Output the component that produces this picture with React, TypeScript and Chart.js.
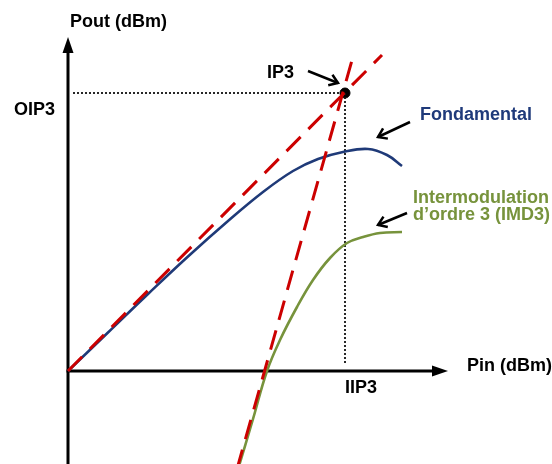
import React, { useEffect, useRef } from "react";
import { Chart, registerables } from "chart.js";
Chart.register(...registerables);

// Schematic units: origin at axis crossing; IIP3 ≈ 27.7, OIP3 ≈ 27.8
const fundPin = [0, 4, 8, 12, 16, 19.5, 22.5, 25, 27.5, 30, 31.9, 33.4];
const fundPout = [0, 3.85, 7.7, 11.45, 15.0, 17.9, 20.0, 21.2, 21.9, 22.2, 21.6, 20.5];

const imdPin = [16.95, 18.5, 19.9, 21.2, 22.9, 24.5, 26.2, 27.9, 29.5, 31.2, 33.4];
const imdPout = [-10, -4.8, 0, 3.1, 6.4, 9.1, 11.3, 12.8, 13.4, 13.8, 13.9];

const asym1Pin = [0, 31.4];
const asym1Pout = [0, 31.6];
const asym3Pin = [16.9, 28.6];
const asym3Pout = [-9.8, 31.8];

const ip3Pin = [27.7];
const ip3Pout = [27.8];

const hDotPin = [0.5, 27.7];
const hDotPout = [27.8, 27.8];
const vDotPin = [27.7, 27.7];
const vDotPout = [27.8, 0.7];

const X_MIN = -6.8, X_MAX = 48.4, Y_MIN = -9.3, Y_MAX = 37.1;
const X_ARROW_TIP = 38.0, Y_ARROW_TIP = 33.4;

const labels = [
  { text: "Pout (dBm)", x: 0.2, y: 34.4, color: "#000000" },
  { text: "OIP3", x: -5.4, y: 25.6, color: "#000000" },
  { text: "IP3", x: 19.9, y: 29.3, color: "#000000" },
  { text: "Fondamental", x: 35.2, y: 25.1, color: "#1F3A7A" },
  { text: "Intermodulation", x: 34.5, y: 16.8, color: "#77933C" },
  { text: "d\u2019ordre 3 (IMD3)", x: 34.5, y: 15.1, color: "#77933C" },
  { text: "Pin (dBm)", x: 39.9, y: 0.0, color: "#000000" },
  { text: "IIP3", x: 27.7, y: -2.17, color: "#000000" },
];

const pointers = [
  { x1: 24.0, y1: 30.0, x2: 27.0, y2: 28.8 },
  { x1: 34.2, y1: 24.9, x2: 31.0, y2: 23.4 },
  { x1: 33.9, y1: 15.8, x2: 31.0, y2: 14.6 },
];

const zip = (xs: number[], ys: number[]) => xs.map((x, i) => ({ x, y: ys[i] }));

const annotPlugin = {
  id: "annot",
  beforeDatasetsDraw(chart: any) {
    const { ctx, scales } = chart;
    const sx = (v: number) => scales.x.getPixelForValue(v);
    const sy = (v: number) => scales.y.getPixelForValue(v);
    const ox = sx(0), oy = sy(0);
    ctx.save();
    ctx.strokeStyle = "#000";
    ctx.fillStyle = "#000";
    ctx.lineWidth = 3;
    // y axis
    const yTip = sy(Y_ARROW_TIP);
    ctx.beginPath();
    ctx.moveTo(ox, sy(Y_MIN));
    ctx.lineTo(ox, yTip + 12);
    ctx.stroke();
    ctx.beginPath();
    ctx.moveTo(ox, yTip);
    ctx.lineTo(ox - 5.5, yTip + 16);
    ctx.lineTo(ox + 5.5, yTip + 16);
    ctx.closePath();
    ctx.fill();
    // x axis
    const xTip = sx(X_ARROW_TIP);
    ctx.beginPath();
    ctx.moveTo(ox - 1.5, oy);
    ctx.lineTo(xTip - 12, oy);
    ctx.stroke();
    ctx.beginPath();
    ctx.moveTo(xTip, oy);
    ctx.lineTo(xTip - 16, oy - 5.5);
    ctx.lineTo(xTip - 16, oy + 5.5);
    ctx.closePath();
    ctx.fill();
    ctx.restore();
  },
  afterDraw(chart: any) {
    const { ctx, scales } = chart;
    const sx = (v: number) => scales.x.getPixelForValue(v);
    const sy = (v: number) => scales.y.getPixelForValue(v);
    ctx.save();
    // pointer arrows
    ctx.strokeStyle = "#000";
    ctx.lineWidth = 2.5;
    ctx.lineCap = "butt";
    ctx.lineJoin = "miter";
    pointers.forEach((p) => {
      const x1 = sx(p.x1), y1 = sy(p.y1), x2 = sx(p.x2), y2 = sy(p.y2);
      const a = Math.atan2(y2 - y1, x2 - x1);
      ctx.beginPath();
      ctx.moveTo(x1, y1);
      ctx.lineTo(x2, y2);
      ctx.stroke();
      const L = 10, w = 0.6;
      ctx.beginPath();
      ctx.moveTo(x2 - L * Math.cos(a - w), y2 - L * Math.sin(a - w));
      ctx.lineTo(x2, y2);
      ctx.lineTo(x2 - L * Math.cos(a + w), y2 - L * Math.sin(a + w));
      ctx.stroke();
    });
    // labels
    ctx.font = "bold 18px 'Liberation Sans', Arial, sans-serif";
    ctx.textBaseline = "alphabetic";
    ctx.textAlign = "left";
    labels.forEach((l) => {
      ctx.fillStyle = l.color;
      ctx.fillText(l.text, sx(l.x), sy(l.y));
    });
    ctx.restore();
  },
};

export default function App() {
  const ref = useRef<HTMLCanvasElement | null>(null);
  useEffect(() => {
    if (!ref.current) return;
    const chart = new Chart(ref.current, {
      type: "scatter",
      data: {
        datasets: [
          {
            label: "Asymptote 1",
            data: zip(asym1Pin, asym1Pout),
            showLine: true,
            borderColor: "#CC0000",
            borderWidth: 3,
            borderDash: [20, 11],
            pointRadius: 0,
          },
          {
            label: "Asymptote 3",
            data: zip(asym3Pin, asym3Pout),
            showLine: true,
            borderColor: "#CC0000",
            borderWidth: 3,
            borderDash: [20, 11],
            pointRadius: 0,
          },
          {
            label: "Fondamental",
            data: zip(fundPin, fundPout),
            showLine: true,
            borderColor: "#1F3A78",
            borderWidth: 2.6,
            tension: 0.4,
            pointRadius: 0,
          },
          {
            label: "IMD3",
            data: zip(imdPin, imdPout),
            showLine: true,
            borderColor: "#77933C",
            borderWidth: 2.6,
            tension: 0.4,
            pointRadius: 0,
          },
          {
            label: "OIP3 guide",
            data: zip(hDotPin, hDotPout),
            showLine: true,
            borderColor: "#111111",
            borderWidth: 1.8,
            borderDash: [2, 2],
            pointRadius: 0,
          },
          {
            label: "IIP3 guide",
            data: zip(vDotPin, vDotPout),
            showLine: true,
            borderColor: "#111111",
            borderWidth: 1.8,
            borderDash: [2, 2],
            pointRadius: 0,
          },
          {
            label: "IP3",
            data: zip(ip3Pin, ip3Pout),
            showLine: false,
            backgroundColor: "#000000",
            borderColor: "#000000",
            pointRadius: 5,
          },
        ],
      },
      options: {
        animation: false,
        responsive: false,
        maintainAspectRatio: false,
        layout: { padding: 0, autoPadding: false },
        plugins: { legend: { display: false }, tooltip: { enabled: false } },
        scales: {
          x: { type: "linear", min: X_MIN, max: X_MAX, display: false },
          y: { type: "linear", min: Y_MIN, max: Y_MAX, display: false },
        },
      } as any,
      plugins: [annotPlugin],
    });
    return () => chart.destroy();
  }, []);
  return (
    <div style={{ position: "absolute", left: 0, top: 0, width: 552, height: 464, background: "#fff" }}>
      <canvas ref={ref} width={552} height={464} />
    </div>
  );
}
